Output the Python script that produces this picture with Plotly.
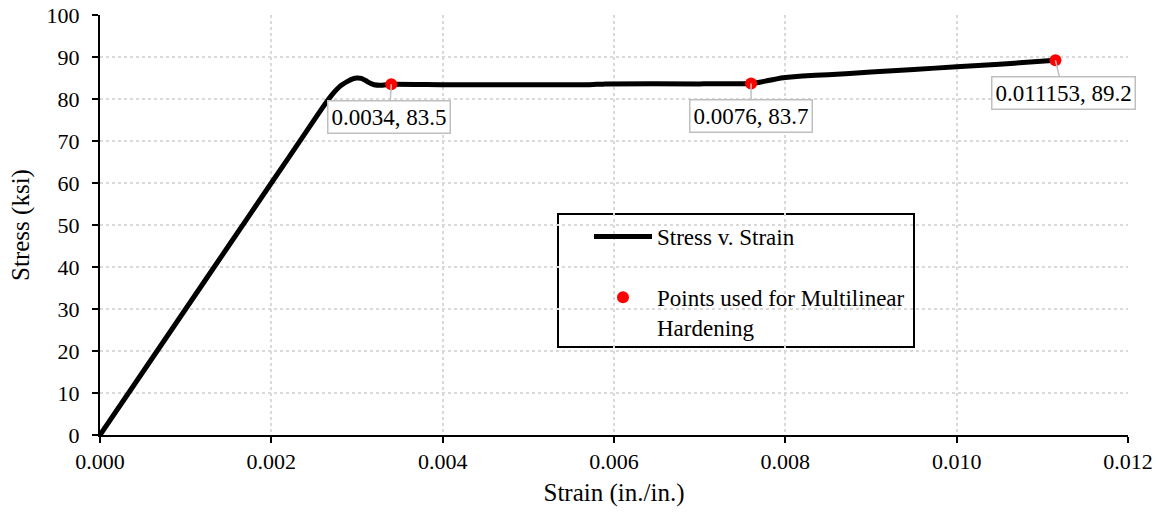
import plotly.graph_objects as go

strain = [0, 0.0005, 0.001, 0.0015, 0.002, 0.0024, 0.0026, 0.0027, 0.0028, 0.0029, 0.00295,
          0.0030, 0.00305, 0.0031, 0.00315, 0.0032, 0.0033, 0.0034, 0.004, 0.005, 0.0057,
          0.0059, 0.007, 0.0076, 0.0077, 0.0078, 0.0079, 0.0080, 0.0082, 0.0085, 0.009,
          0.0095, 0.010, 0.0105, 0.011153]
stress = [0, 15, 30, 45, 60, 72, 78, 80.8, 83, 84.3, 84.8, 85.0, 84.9, 84.4, 83.8, 83.4,
          83.3, 83.5, 83.4, 83.4, 83.4, 83.6, 83.6, 83.7, 84.0, 84.4, 84.8, 85.1, 85.5,
          85.8, 86.4, 87.0, 87.7, 88.3, 89.2]

pt_strain = [0.0034, 0.0076, 0.011153]
pt_stress = [83.5, 83.7, 89.2]
pt_labels = ["0.0034, 83.5", "0.0076, 83.7", "0.011153, 89.2"]
label_offsets = [(-2, 33), (0, 33), (8, 33)]

FONT = "Liberation Serif, Times New Roman, serif"

fig = go.Figure()
fig.add_trace(go.Scatter(x=strain, y=stress, mode="lines", name="Stress v. Strain",
                         line=dict(color="black", width=5, shape="spline", smoothing=0.4),
                         legendgroup="a"))
fig.add_trace(go.Scatter(x=pt_strain, y=pt_stress, mode="markers",
                         name="Points used for Multilinear<br>Hardening",
                         marker=dict(color="red", size=12), legendgroup="b"))

for xv, yv, t, (ax, ay) in zip(pt_strain, pt_stress, pt_labels, label_offsets):
    fig.add_annotation(x=xv, y=yv, text=t, showarrow=True, arrowhead=0, ax=ax, ay=ay,
                       arrowcolor="#bfbfbf", arrowwidth=1.5, bordercolor="#bfbfbf",
                       borderwidth=1.5, borderpad=3, bgcolor="white",
                       font=dict(family=FONT, size=23, color="black"))

fig.add_shape(type="rect", xref="paper", yref="paper",
              x0=(558 - 100) / 1028, x1=(914 - 100) / 1028,
              y0=(435 - 347) / 420, y1=(435 - 214) / 420,
              line=dict(color="black", width=2), fillcolor="white", layer="between")

fig.update_layout(
    width=1160, height=513,
    margin=dict(l=100, r=32, t=15, b=78),
    plot_bgcolor="white", paper_bgcolor="white",
    font=dict(family=FONT, size=22, color="black"),
    showlegend=True,
    legend=dict(x=(589 - 100) / 1028, y=(435 - 215) / 420, xanchor="left", yanchor="top",
                bgcolor="rgba(0,0,0,0)", borderwidth=0, font=dict(family=FONT, size=23),
                traceorder="grouped", tracegroupgap=28, itemwidth=58, valign="top"),
    xaxis=dict(range=[0, 0.012], dtick=0.002, tickformat=".3f", showline=True,
               linecolor="black", linewidth=2, ticks="outside", ticklen=6, tickwidth=2,
               tickcolor="black", showgrid=True, gridcolor="#d9d9d9", griddash="dot",
               gridwidth=1.5, zeroline=False, mirror=False, automargin=False,
               title=dict(text="Strain (in./in.)", font=dict(size=25), standoff=10),
               tickfont=dict(size=22)),
    yaxis=dict(range=[0, 100], dtick=10, showline=True, linecolor="black", linewidth=2,
               ticks="outside", ticklen=6, tickwidth=2, tickcolor="black", showgrid=True,
               gridcolor="#d9d9d9", griddash="dot", gridwidth=1.5, zeroline=False,
               automargin=False, ticklabelstandoff=8,
               title=dict(text="Stress (ksi)", font=dict(size=25), standoff=10),
               tickfont=dict(size=22)),
)

fig.write_html("out.html")
